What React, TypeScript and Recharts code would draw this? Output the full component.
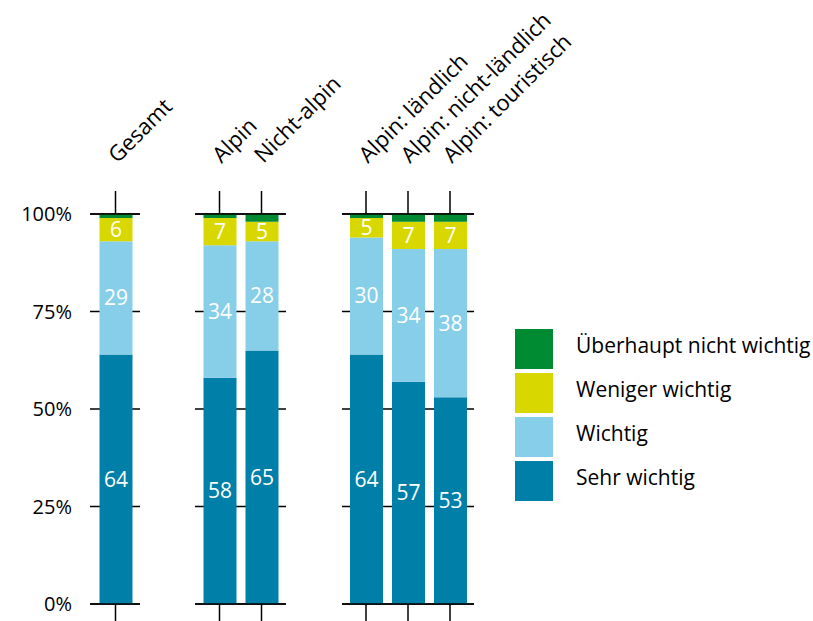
import React from 'react';
import { BarChart, Bar, XAxis, YAxis, LabelList, CartesianGrid } from 'recharts';

const categories = [
  'Gesamt',
  'Alpin',
  'Nicht-alpin',
  'Alpin: ländlich',
  'Alpin: nicht-ländlich',
  'Alpin: touristisch',
];
const sehrWichtig = [64, 58, 65, 64, 57, 53];
const wichtig = [29, 34, 28, 30, 34, 38];
const wenigerWichtig = [6, 7, 5, 5, 7, 7];
const ueberhauptNicht = [1, 1, 2, 1, 2, 2];
const panelGroups = [[0], [1, 2], [3, 4, 5]];
const yTicks = [0, 25, 50, 75, 100];

const seriesKeys = ['sehr', 'wichtig', 'weniger', 'ueberhaupt'];
const seriesNames = ['Sehr wichtig', 'Wichtig', 'Weniger wichtig', 'Überhaupt nicht wichtig'];
const seriesColors = ['#0080A8', '#87CEE8', '#D8D800', '#008A32'];

const rows = categories.map((name, i) => ({
  name,
  sehr: sehrWichtig[i],
  wichtig: wichtig[i],
  weniger: wenigerWichtig[i],
  ueberhaupt: ueberhauptNicht[i],
}));

const W = 813;
const H = 621;
const panelLayout = [
  { x: 90, w: 50, padL: 4.5, padR: 3.5 },
  { x: 195, w: 91, padL: 3.5, padR: 3.5 },
  { x: 342, w: 132, padL: 3, padR: 3 },
];

const FONT = "'Open Sans', sans-serif";

const TopTick = (props: any) => {
  const { x, y, payload } = props;
  return (
    <g transform={`translate(${x + 2},${y - 27})`}>
      <text x={0} y={0} transform="rotate(-45)" textAnchor="start" fontSize={22} fill="#000" fontFamily={FONT}>
        {payload.value}
      </text>
    </g>
  );
};

const EmptyTick = () => <g />;

const axisStroke = { stroke: '#000', strokeWidth: 1.5 };

function Panel({ idx }: { idx: number }) {
  const layout = panelLayout[idx];
  const data = panelGroups[idx].map((i) => rows[i]);
  const hasY = idx === 0;
  const yW = 90;
  const marginLeft = hasY ? layout.x - yW : layout.x;
  return (
    <div style={{ position: 'absolute', left: 0, top: 0 }}>
      <BarChart
        width={W}
        height={H}
        data={data}
        margin={{ top: 154, bottom: 0, left: marginLeft, right: W - layout.x - layout.w }}
        barSize={33}
      >
        <CartesianGrid vertical={false} stroke="#000" strokeWidth={1.5} xAxisId="top" />
        <XAxis
          xAxisId="top"
          orientation="top"
          dataKey="name"
          height={60}
          padding={{ left: layout.padL, right: layout.padR }}
          tickSize={23}
          tickMargin={0}
          axisLine={axisStroke}
          tickLine={axisStroke}
          tick={<TopTick />}
          interval={0}
        />
        <XAxis
          xAxisId="bottom"
          orientation="bottom"
          dataKey="name"
          height={17}
          padding={{ left: layout.padL, right: layout.padR }}
          tickSize={18}
          axisLine={axisStroke}
          tickLine={axisStroke}
          tick={<EmptyTick />}
          interval={0}
        />
        {hasY ? (
          <YAxis
            width={yW}
            domain={[0, 100]}
            ticks={yTicks}
            tickFormatter={(v: number) => `${v}%`}
            axisLine={false}
            tickLine={false}
            tickSize={0}
            tickMargin={18}
            tick={{ fill: '#000', fontSize: 20, fontFamily: FONT }}
            allowDataOverflow
          />
        ) : (
          <YAxis hide domain={[0, 100]} ticks={yTicks} allowDataOverflow />
        )}
        {seriesKeys.map((k, si) => (
          <Bar
            key={k}
            dataKey={k}
            name={seriesNames[si]}
            stackId="s"
            xAxisId="top"
            fill={seriesColors[si]}
            isAnimationActive={false}
          >
            {si < 3 ? (
              <LabelList dataKey={k} position="center" fill="#fff" fontSize={21} fontFamily={FONT} />
            ) : null}
          </Bar>
        ))}
      </BarChart>
    </div>
  );
}

export default function App() {
  const legendOrder = [3, 2, 1, 0];
  return (
    <div
      style={{
        position: 'absolute',
        left: 0,
        top: 0,
        width: W,
        height: H,
        background: '#fff',
        fontFamily: FONT,
        overflow: 'hidden',
      }}
    >
      {panelGroups.map((_, i) => (
        <Panel key={i} idx={i} />
      ))}
      {legendOrder.map((si, j) => (
        <div key={si}>
          <div
            style={{
              position: 'absolute',
              left: 515,
              top: 329 + j * 44,
              width: 38,
              height: 40,
              background: seriesColors[si],
            }}
          />
          <div
            style={{
              position: 'absolute',
              left: 576,
              top: 325 + j * 44,
              height: 40,
              lineHeight: '40px',
              fontSize: 21,
              color: '#000',
              whiteSpace: 'nowrap',
            }}
          >
            {seriesNames[si]}
          </div>
        </div>
      ))}
    </div>
  );
}
